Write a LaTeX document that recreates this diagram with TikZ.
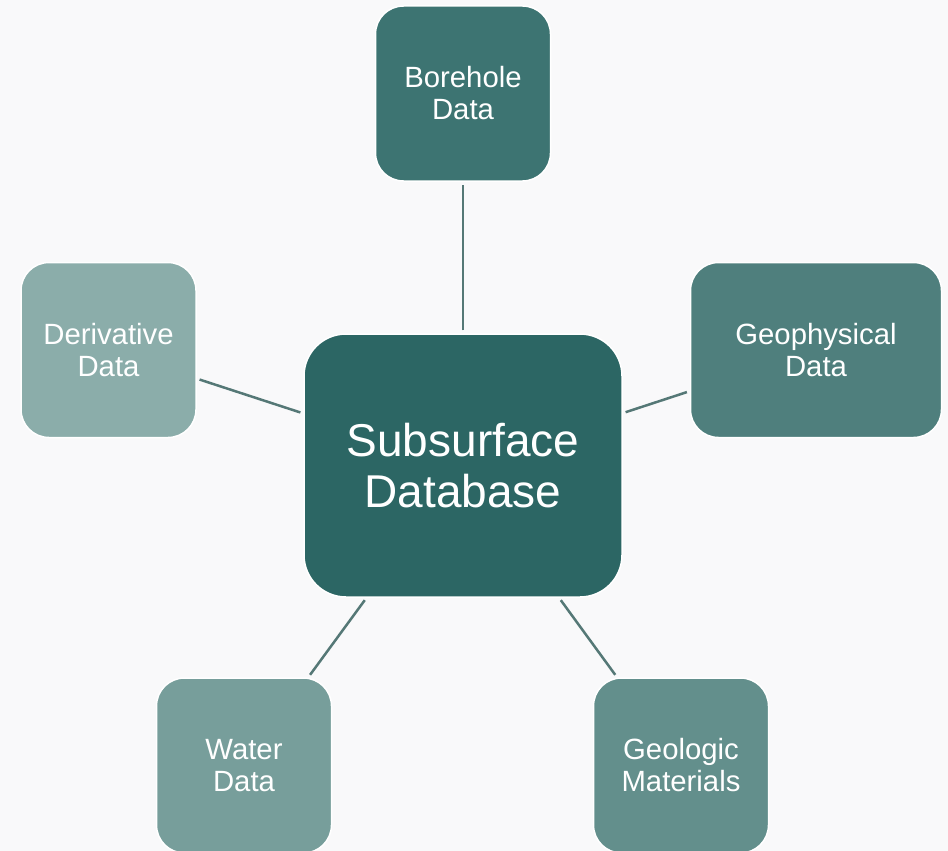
\documentclass[tikz,border=0pt]{standalone}
\usepackage{fontspec}
\setmainfont{Liberation Sans}
\definecolor{bg}{HTML}{F9F9FA}
\definecolor{cMain}{HTML}{2C6664}
\definecolor{cBore}{HTML}{3D7472}
\definecolor{cGeoph}{HTML}{4F7F7D}
\definecolor{cGeol}{HTML}{638F8C}
\definecolor{cWater}{HTML}{779E9B}
\definecolor{cDeriv}{HTML}{8BADAA}
\definecolor{cLine}{HTML}{557876}
\tikzset{
  sat/.style={draw=white, line width=1.5pt, rounded corners=28pt, minimum width=175pt, minimum height=175pt, inner sep=0pt, align=center, text=white, font=\fontsize{29.3}{32}\selectfont},
  hub/.style={draw=white, line width=1.5pt, rounded corners=42pt, minimum width=318pt, minimum height=263pt, inner sep=0pt, align=center, text=white, font=\fontsize{46}{51}\selectfont},
  conn/.style={draw=cLine, line width=2.5pt, shorten <=3pt, shorten >=3pt}
}
\begin{document}
\begin{tikzpicture}[x=1pt,y=-1pt]
\fill[bg] (0,0) rectangle (948,851);
\useasboundingbox (0,0) rectangle (948,851);
\node[hub, fill=cMain] (hub) at (463,465.5) {Subsurface\\Database};
\node[sat, fill=cBore] (bore) at (463,93.5) {Borehole\\Data};
\node[sat, fill=cDeriv] (deriv) at (108.5,350) {Derivative\\Data};
\node[sat, fill=cGeoph, minimum width=251pt] (geoph) at (816,350) {Geophysical\\Data};
\node[sat, fill=cWater] (water) at (244,765.5) {Water\\Data};
\node[sat, fill=cGeol] (geol) at (681,765.5) {Geologic\\Materials};
\draw[conn] (hub) -- (bore);
\draw[conn] (hub) -- (deriv);
\draw[conn] (hub) -- (geoph);
\draw[conn] (hub) -- (water);
\draw[conn] (hub) -- (geol);
\end{tikzpicture}
\end{document}
